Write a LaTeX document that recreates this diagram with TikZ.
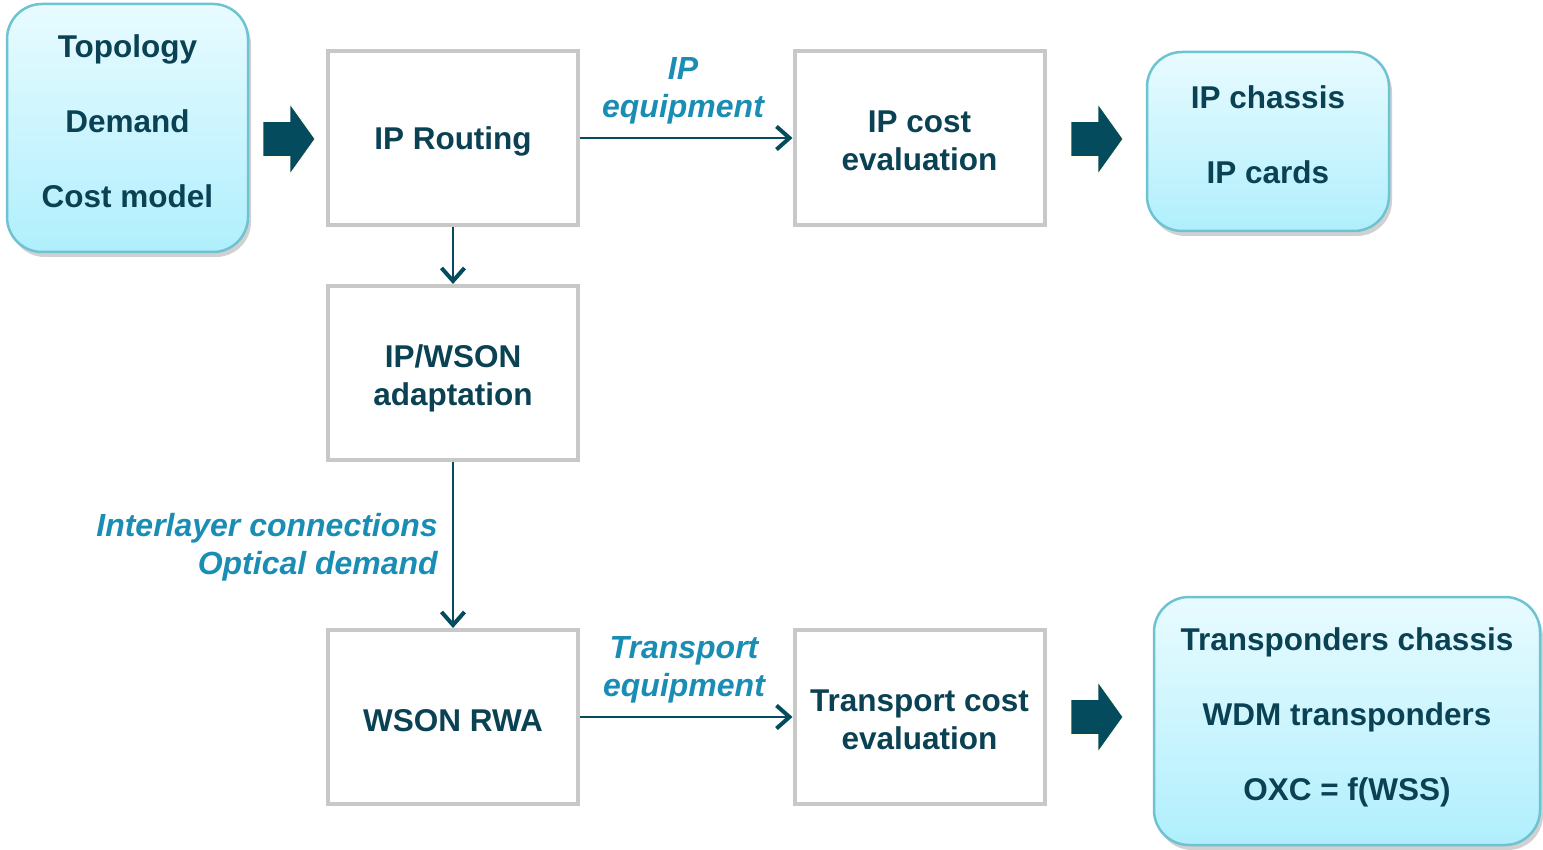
\documentclass[tikz,border=0pt]{standalone}
\usepackage{fontspec}
\setmainfont{Liberation Sans}
\usetikzlibrary{arrows.meta,shadows}
\definecolor{txt}{HTML}{0A4254}
\definecolor{lbl}{HTML}{1A8DB5}
\definecolor{gry}{HTML}{C8C8C8}
\definecolor{teal}{HTML}{044B5D}
\definecolor{rtop}{HTML}{E8FBFF}
\definecolor{rbot}{HTML}{B0EFFD}
\definecolor{rbrd}{HTML}{6EC3D3}
\begin{document}
\begin{tikzpicture}[x=1pt,y=-1pt,
  bf/.style={font=\fontsize{31.5}{38}\selectfont\bfseries},
  gbox/.style={draw=gry,line width=4pt,fill=white,minimum width=250pt,minimum height=174pt,inner sep=0pt,align=center,text=txt,bf},
  oneline/.style={execute at begin node={\rule{0pt}{30pt}}},
  twoline/.style={text height=65pt,text depth=0pt},
  rbox/.style={draw=rbrd,line width=2.5pt,rounded corners=35pt,top color=rtop,bottom color=rbot,
     drop shadow={shadow xshift=3pt,shadow yshift=-5pt,opacity=0.3,fill=black!60},
     inner sep=0pt,align=center,text=txt,font=\fontsize{31.5}{75}\selectfont\bfseries,text depth=14pt},
  conn/.style={draw=teal,line width=2pt,-{Straight Barb[length=13pt,width=23pt,line width=4pt]}},
  lab/.style={text=lbl,font=\fontsize{32}{38}\selectfont\bfseries\itshape,inner sep=0pt,align=center},
  barrow/.style={fill=teal,draw=yellow!10!white,line width=0.8pt}
]
\useasboundingbox (0,0) rectangle (1543,850);

% input / output rounded boxes
\node[rbox,minimum width=241pt,minimum height=248pt] (inp) at (127.5,128) {Topology\\Demand\\Cost model};
\node[rbox,minimum width=242pt,minimum height=179pt] (ipout) at (1268,141.5) {IP chassis\\IP cards};
\node[rbox,minimum width=386pt,minimum height=248pt] (trout) at (1347,721) {Transponders chassis\\WDM transponders\\OXC = f(WSS)};

% process boxes
\node[gbox,oneline] (iprt) at (453,138) {IP Routing};
\node[gbox,twoline] (ipcost) at (919.5,138) {IP cost\\evaluation};
\node[gbox,twoline] (adapt) at (453,373) {IP/WSON\\adaptation};
\node[gbox,oneline] (rwa) at (453,717) {WSON RWA};
\node[gbox,twoline] (trcost) at (919.5,717) {Transport cost\\evaluation};

% connectors
\draw[conn] (iprt.east) -- (ipcost.west);
\draw[conn] (iprt.south) -- (adapt.north);
\draw[conn] (adapt.south) -- (rwa.north);
\draw[conn] (rwa.east) -- (trcost.west);

% labels
\node[lab] (l1) at (683,91) {IP\\equipment};
\node[lab] (l2) at (684,670) {Transport\\equipment};
\node[lab,align=right,anchor=east] (l3) at (438,547) {Interlayer connections\\Optical demand};

% block arrows
\foreach \x/\y/\nm in {263/139/ba1, 1071/139/ba2, 1071/717/ba3}{
  \draw[barrow] (\x,\y-17.5) -- ++(27,0) -- ++(0,-17.5) -- (\x+52,\y) -- (\x+27,\y+35) -- ++(0,-17.5) -- (\x,\y+17.5) -- cycle;
}
\end{tikzpicture}
\end{document}
